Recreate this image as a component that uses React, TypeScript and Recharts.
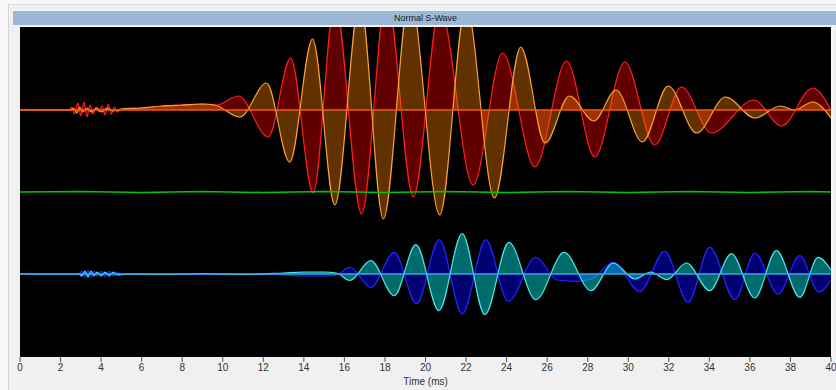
import React from 'react';
import { ComposedChart, Area, Line, XAxis, YAxis, CartesianGrid, ReferenceLine } from 'recharts';

const title = 'Normal S-Wave';
const xLabel = 'Time (ms)';
const timeTicks = [0, 2, 4, 6, 8, 10, 12, 14, 16, 18, 20, 22, 24, 26, 28, 30, 32, 34, 36, 38, 40];

// Trace 1 (red)
const redTimes = [0, 1.5, 2.4, 2.55, 2.7, 2.85, 3.0, 3.15, 3.3, 3.45, 3.6, 3.75, 3.9, 4.05, 4.2, 4.35, 4.5, 4.65, 4.8, 5.0, 6.0, 7.0, 8.0, 9.0, 9.7,
  10.77, 12.25, 13.35, 14.46, 15.53, 16.85, 18.08, 19.4, 20.71, 22.35, 23.8, 25.4, 26.96, 28.35, 29.83, 31.3, 32.63, 34.1, 36.2, 37.56, 39.1, 40];
const redValues = [0, 0, 0, 3, -4, 7, -6, 8, -7, 5, -4, 3, -2, 4, -5, 6, -4, 3, -2, 1, 2, 4, 5, 6, 5,
  14, -27, 52, -83, 108, -104, 115, -87, 102, -75, 57, -57, 49, -47, 48, -35, 23, -23, 10, -16, 22, 0];

// Trace 2 (orange)
const orangeTimes = [0, 2.5, 2.65, 2.8, 2.95, 3.1, 3.3, 3.5, 3.8, 4.0, 4.3, 4.6, 5.0, 6.0, 7.0, 8.0, 9.0, 9.6,
  10.85, 12.16, 13.3, 14.43, 15.53, 16.77, 17.92, 19.23, 20.7, 22.0, 23.4, 24.7, 25.9, 27.1, 28.3, 29.4, 30.7, 31.97, 33.37, 34.8, 36.25, 37.5, 38.2, 39.1, 40];
const orangeValues = [0, 0, 2, -3, 3, -2, 2, -2, 2, -2, 2, -1, 1, 2, 4, 5, 6, 5,
  -7, 27, -52, 71, -95, 110, -109, 115, -105, 105, -88, 63, -33, 14, -11, 20, -32, 24, -23, 13, -8, 4, 0, 8, -8];

// Trace 3 (green)
const greenTimes = [0, 3, 6, 9, 12, 15, 18, 21, 24, 27, 30, 33, 36, 39, 40];
const greenValues = [0, 0.6, -0.4, 0.5, -0.5, 0.6, -0.4, 0.4, -0.6, 0.5, -0.4, 0.6, -0.5, 0.4, 0];

// Trace 4 (blue)
const blueTimes = [0, 2.9, 3.05, 3.2, 3.35, 3.5, 3.65, 3.8, 4.0, 4.2, 4.4, 4.6, 4.8, 5.0, 5.3, 7, 9, 11, 13, 14, 15, 15.6,
  16.27, 17.3, 18.46, 19.56, 20.68, 21.81, 22.98, 24.08, 25.44, 26.5, 27.5, 28.2, 29.26, 30.57, 31.8, 32.95, 34.02, 35.26, 36.24, 37.39, 38.46, 39.4, 40];
const blueValues = [0, 0, 3, -3, 4, -3, 3, -2, 3, -3, 3, -2, 2, -1, 0, 0.5, -0.5, 0.5, -1, -2, -2, -1,
  6.6, -13.4, 21.6, -29.7, 34.3, -40, 34.3, -27.4, 16.6, -6, -7.4, -5, 11.6, -17.4, 22.6, -28.4, 26.6, -25.7, 21, -20, 18.3, -18, -6];

// Trace 5 (cyan)
const cyanTimes = [0, 2.9, 3.05, 3.2, 3.35, 3.5, 3.65, 3.8, 4.0, 4.2, 4.4, 4.6, 4.8, 5.3, 7, 9, 11, 13, 14, 15, 15.6,
  16.27, 17.3, 18.46, 19.53, 20.66, 21.81, 22.93, 24.11, 25.44, 26.84, 28.16, 29.26, 30.33, 31.1, 31.9, 32.87, 34.02, 35.09, 36.24, 37.31, 38.46, 39.36, 40];
const cyanValues = [0, 0, -2, 3, -3, 3, -2, 2, -2, 2, -2, 2, -1, 0, -0.5, 0.5, -0.5, 1, 2, 2, 1,
  -6.4, 13.3, -21.7, 29.3, -36.7, 40.3, -40.7, 31.6, -25.7, 21.6, -16.7, 11, -5, 2, -5.7, 11, -16.7, 20.3, -24, 23.3, -23.4, 16.6, 4];

// vertical offsets of each trace inside the plot (plot spans 0..330)
const TOP_BASE = 247;
const MID_BASE = 165;
const LOW_BASE = 83;

const build = (ts: number[], vs: number[], base: number) => ts.map((t, i) => ({ t, v: vs[i] + base }));

const redData = build(redTimes, redValues, TOP_BASE);
const orangeData = build(orangeTimes, orangeValues, TOP_BASE);
const greenData = build(greenTimes, greenValues, MID_BASE);
const blueData = build(blueTimes, blueValues, LOW_BASE);
const cyanData = build(cyanTimes, cyanValues, LOW_BASE);

const font = '"Liberation Sans", Arial, sans-serif';

export default function App() {
  return (
    <div style={{ position: 'absolute', left: 0, top: 0, width: 836, height: 390, background: '#f7f7f7', overflow: 'hidden', fontFamily: font }}>
      <div style={{ position: 'absolute', left: 8, top: 4, width: 840, height: 400, background: '#f0f0f0', borderLeft: '1px solid #d6d6d6', borderTop: '1px solid #dcdcdc' }} />
      <div style={{ position: 'absolute', left: 13, top: 11, width: 825, height: 14, background: '#9db7d6', color: '#1a1a1a', fontSize: 9, lineHeight: '14px', textAlign: 'center' }}>
        {title}
      </div>
      <div style={{ position: 'absolute', left: 831, top: 27, width: 2, height: 330, background: '#fcfcfc' }} />
      <div style={{ position: 'absolute', left: 0, top: 0 }}>
        <ComposedChart width={836} height={390} margin={{ top: 27, right: 5, bottom: 0, left: 20 }}>
          <CartesianGrid fill="#000000" stroke="transparent" horizontal={false} vertical={false} />
          <XAxis
            dataKey="t"
            type="number"
            domain={[0, 40]}
            ticks={timeTicks}
            interval={0}
            height={33}
            tickSize={5}
            tickMargin={2}
            axisLine={false}
            tickLine={{ stroke: '#555555' }}
            tick={{ fontSize: 10, fill: '#333333', fontFamily: font }}
            label={{ value: xLabel, position: 'insideBottom', offset: 5, fontSize: 10, fill: '#333333', fontFamily: font }}
            allowDataOverflow
          />
          <YAxis hide type="number" domain={[0, 330]} allowDataOverflow />
          <Area data={redData} dataKey="v" type="monotone" baseValue={TOP_BASE} stroke="#ff1e1e" strokeWidth={1.2} fill="#ff0000" fillOpacity={0.38} isAnimationActive={false} dot={false} activeDot={false} />
          <Area data={orangeData} dataKey="v" type="monotone" baseValue={TOP_BASE} stroke="#f7a035" strokeWidth={1.2} fill="#ff8000" fillOpacity={0.38} isAnimationActive={false} dot={false} activeDot={false} />
          <ReferenceLine y={TOP_BASE} stroke="#f05a1e" strokeWidth={1.5} />
          <Line data={greenData} dataKey="v" type="linear" stroke="#00c800" strokeWidth={1.5} dot={false} activeDot={false} isAnimationActive={false} />
          <Area data={blueData} dataKey="v" type="monotone" baseValue={LOW_BASE} stroke="#2424ff" strokeWidth={1.2} fill="#0000ff" fillOpacity={0.45} isAnimationActive={false} dot={false} activeDot={false} />
          <Area data={cyanData} dataKey="v" type="monotone" baseValue={LOW_BASE} stroke="#45e6e6" strokeWidth={1.2} fill="#00ffff" fillOpacity={0.42} isAnimationActive={false} dot={false} activeDot={false} />
          <ReferenceLine y={LOW_BASE} stroke="#3aa6ea" strokeWidth={1.5} />
        </ComposedChart>
      </div>
    </div>
  );
}
